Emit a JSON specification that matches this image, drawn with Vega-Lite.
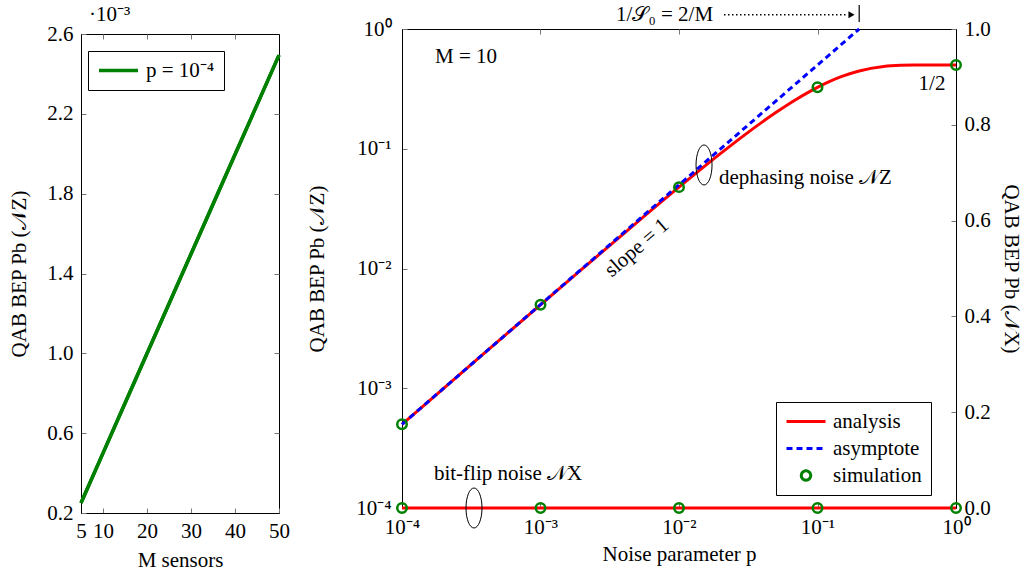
{
  "$schema": "https://vega.github.io/schema/vega-lite/v6.json",
  "padding": {"left": 8, "top": 2, "right": 5, "bottom": 3},
  "background": "white",
  "spacing": 16,
  "resolve": {"scale": {"color": "independent"}, "legend": {"color": "independent"}},
  "config": {
    "font": "Liberation Serif",
    "view": {"stroke": "black", "strokeWidth": 1},
    "axis": {
      "labelFont": "Liberation Serif", "labelFontSize": 21, "labelColor": "black",
      "titleFont": "Liberation Serif", "titleFontSize": 21, "titleFontWeight": "normal", "titleColor": "black",
      "domainColor": "black", "tickColor": "#777", "tickSize": -5, "grid": false,
      "labelPadding": 13, "labelFlush": false, "labelOverlap": false, "labelBound": false
    },
    "legend": {
      "labelFont": "Liberation Serif", "labelFontSize": 21, "labelColor": "black",
      "strokeColor": "black", "fillColor": "white", "padding": 9, "labelOffset": 6,
      "rowPadding": 5, "symbolStrokeWidth": 3.5, "cornerRadius": 0
    },
    "text": {"font": "Liberation Serif", "fontSize": 21, "color": "black"},
    "title": {"font": "Liberation Serif", "fontSize": 21, "fontWeight": "normal", "color": "black"}
  },
  "datasets": {
    "sensors": [
      {"M": 5, "Pb": 0.00025, "series": "p = 10⁻⁴"},
      {"M": 10, "Pb": 0.0004998, "series": "p = 10⁻⁴"},
      {"M": 15, "Pb": 0.0007495, "series": "p = 10⁻⁴"},
      {"M": 20, "Pb": 0.000999, "series": "p = 10⁻⁴"},
      {"M": 25, "Pb": 0.0012485, "series": "p = 10⁻⁴"},
      {"M": 30, "Pb": 0.0014978, "series": "p = 10⁻⁴"},
      {"M": 35, "Pb": 0.001747, "series": "p = 10⁻⁴"},
      {"M": 40, "Pb": 0.001996, "series": "p = 10⁻⁴"},
      {"M": 45, "Pb": 0.002245, "series": "p = 10⁻⁴"},
      {"M": 50, "Pb": 0.002494, "series": "p = 10⁻⁴"}
    ],
    "analysis": [
      {"p": 0.0001, "Pb": 0.0004998, "series": "analysis"},
      {"p": 0.0002, "Pb": 0.000999, "series": "analysis"},
      {"p": 0.0005, "Pb": 0.002494, "series": "analysis"},
      {"p": 0.001, "Pb": 0.004978, "series": "analysis"},
      {"p": 0.002, "Pb": 0.00991, "series": "analysis"},
      {"p": 0.005, "Pb": 0.02444, "series": "analysis"},
      {"p": 0.01, "Pb": 0.04781, "series": "analysis"},
      {"p": 0.02, "Pb": 0.09146, "series": "analysis"},
      {"p": 0.03, "Pb": 0.1313, "series": "analysis"},
      {"p": 0.05, "Pb": 0.2006, "series": "analysis"},
      {"p": 0.07, "Pb": 0.258, "series": "analysis"},
      {"p": 0.1, "Pb": 0.3257, "series": "analysis"},
      {"p": 0.15, "Pb": 0.4016, "series": "analysis"},
      {"p": 0.2, "Pb": 0.4463, "series": "analysis"},
      {"p": 0.3, "Pb": 0.4859, "series": "analysis"},
      {"p": 0.4, "Pb": 0.497, "series": "analysis"},
      {"p": 0.5, "Pb": 0.4995, "series": "analysis"},
      {"p": 0.7, "Pb": 0.5, "series": "analysis"},
      {"p": 1, "Pb": 0.5, "series": "analysis"}
    ],
    "asymptote": [
      {"p": 0.0001, "Pb": 0.0005, "series": "asymptote"},
      {"p": 0.2, "Pb": 1, "series": "asymptote"}
    ],
    "simulationZ": [
      {"p": 0.0001, "Pb": 0.0005, "series": "simulation"},
      {"p": 0.001, "Pb": 0.004978, "series": "simulation"},
      {"p": 0.01, "Pb": 0.04781, "series": "simulation"},
      {"p": 0.1, "Pb": 0.3257, "series": "simulation"},
      {"p": 1, "Pb": 0.5, "series": "simulation"}
    ],
    "notesLeft": [
      {"p": 0.000173, "Pb": 0.583, "label": "M = 10"},
      {"p": 0.01945, "Pb": 0.057, "label": "dephasing noise 𝒩Z"}
    ],
    "notesRight": [
      {"p": 0.01762, "Pb": 1.316, "label": "1/𝒮₀ = 2/M"}
    ],
    "notesCenter": [
      {"p": 0.671, "Pb": 0.347, "label": "1/2"}
    ],
    "slope": [
      {"p": 0.00497, "Pb": 0.01483, "label": "slope = 1"}
    ],
    "arrow": [
      {"p": 0.02113, "p2": 0.166, "Pb": 1.316}
    ],
    "arrowhead": [
      {"p": 0.176, "Pb": 1.316}
    ],
    "bar": [
      {"p": 0.2, "Pb": 1.144, "Pb2": 1.586}
    ],
    "ellipseZ": [
      {"p": 0.01516, "Pb": 0.0732}
    ],
    "bitflip": [
      {"p": 0.0001, "Px": 0},
      {"p": 0.001, "Px": 0},
      {"p": 0.01, "Px": 0},
      {"p": 0.1, "Px": 0},
      {"p": 1, "Px": 0}
    ],
    "simulationX": [
      {"p": 0.0001, "Px": 0},
      {"p": 0.001, "Px": 0},
      {"p": 0.01, "Px": 0},
      {"p": 0.1, "Px": 0},
      {"p": 1, "Px": 0}
    ],
    "notesX": [
      {"p": 0.00017, "Px": 0.071, "label": "bit-flip noise 𝒩X"}
    ],
    "ellipseX": [
      {"p": 0.000331, "Px": 0}
    ]
  },
  "hconcat": [
    {
      "spacing": 0,
      "vconcat": [
        {
          "width": 1, "height": 1,
          "view": {"stroke": null},
          "data": {"values": []},
          "mark": {"type": "text"},
          "encoding": {}
        },
        {
          "width": 198,
          "height": 479,
          "title": {"text": "·10⁻³", "anchor": "start", "frame": "group", "dx": 8, "offset": -2},
          "data": {"name": "sensors"},
          "layer": [
            {
              "mark": {"type": "line", "strokeWidth": 3.5},
              "encoding": {
                "x": {"field": "M", "type": "quantitative",
                  "scale": {"domain": [5, 50], "nice": false, "zero": false},
                  "axis": {"values": [5, 10, 20, 30, 40, 50], "title": "M sensors", "labelPadding": 12, "titlePadding": 8}},
                "y": {"field": "Pb", "type": "quantitative",
                  "scale": {"domain": [0.0002, 0.0026], "nice": false, "zero": false},
                  "axis": {"values": [0.0002, 0.0006, 0.001, 0.0014, 0.0018, 0.0022, 0.0026],
                    "labelExpr": "format(datum.value*1000, '.1f')",
                    "title": "QAB BEP Pb (𝒩Z)", "titlePadding": 17}},
                "color": {"field": "series", "type": "nominal",
                  "scale": {"range": ["#008000"]},
                  "legend": {"title": null, "orient": "none", "legendX": 7, "legendY": 49,
                    "symbolType": "stroke", "symbolSize": 1521, "symbolStrokeWidth": 3.5, "clipHeight": 21}}
              }
            },
            {
              "mark": {"type": "line", "strokeWidth": 3.5, "color": "#008000"},
              "encoding": {
                "x": {"field": "M", "type": "quantitative",
                  "axis": {"orient": "top", "labels": false, "title": null, "domain": false, "values": [10, 20, 30, 40]}},
                "y": {"field": "Pb", "type": "quantitative",
                  "axis": {"orient": "right", "labels": false, "title": null, "domain": false,
                    "values": [0.0006, 0.001, 0.0014, 0.0018, 0.0022]}}
              }
            }
          ],
          "resolve": {"axis": {"x": "independent", "y": "independent"}}
        }
      ]
    },
    {
      "spacing": 0,
      "vconcat": [
        {
          "width": 1, "height": 1,
          "view": {"stroke": null},
          "data": {"values": []},
          "mark": {"type": "text"},
          "encoding": {}
        },
        {
          "width": 554,
          "height": 479,
          "layer": [
            {
              "encoding": {
                "x": {"field": "p", "type": "quantitative",
                  "scale": {"type": "log", "domain": [0.0001, 1], "nice": false},
                  "axis": {"orient": "bottom", "values": [0.0001, 0.001, 0.01, 0.1, 1],
                    "labelExpr": "'10' + replace(replace(replace(replace(replace(replace(''+round(log(datum.value)/LN10),'-','⁻'),'0','⁰'),'1','¹'),'2','²'),'3','³'),'4','⁴')",
                    "title": "Noise parameter p", "labelPadding": 13, "titlePadding": 6}},
                "y": {"field": "Pb", "type": "quantitative",
                  "scale": {"type": "log", "domain": [0.0001, 1], "nice": false},
                  "axis": {"orient": "left", "values": [0.0001, 0.001, 0.01, 0.1, 1],
                    "labelExpr": "'10' + replace(replace(replace(replace(replace(replace(''+round(log(datum.value)/LN10),'-','⁻'),'0','⁰'),'1','¹'),'2','²'),'3','³'),'4','⁴')",
                    "title": "QAB BEP Pb (𝒩Z)", "labelPadding": 16, "titlePadding": 28}}
              },
              "layer": [
                {
                  "data": {"name": "analysis"},
                  "mark": {"type": "line", "strokeWidth": 3, "interpolate": "monotone"},
                  "encoding": {
                    "color": {"field": "series", "type": "nominal",
                      "scale": {"domain": ["analysis", "asymptote", "simulation"], "range": ["#ff0000", "#0000ff", "#008000"]},
                      "legend": {"title": null, "orient": "none", "legendX": 374, "legendY": 400,
                        "symbolType": "stroke", "symbolSize": 1521, "symbolStrokeWidth": 3, "clipHeight": 21,
                        "encode": {"symbols": {"update": {
                          "shape": {"signal": "datum.value === 'simulation' ? 'M-0.24,0A0.24,0.24,0,1,0,0.24,0A0.24,0.24,0,1,0,-0.24,0Z' : 'stroke'"},
                          "size": {"value": 1521},
                          "strokeDash": {"signal": "datum.value === 'asymptote' ? [6, 4] : [1, 0]"},
                          "strokeWidth": {"value": 3},
                          "fill": {"value": "transparent"}
                        }}}}}
                  }
                },
                {
                  "data": {"name": "asymptote"},
                  "mark": {"type": "line", "strokeWidth": 3, "strokeDash": [6, 4]},
                  "encoding": {"color": {"field": "series", "type": "nominal"}}
                },
                {
                  "data": {"name": "simulationZ"},
                  "mark": {"type": "point", "shape": "circle", "filled": false, "size": 90, "strokeWidth": 2.5, "opacity": 1},
                  "encoding": {"color": {"field": "series", "type": "nominal"}}
                },
                {
                  "data": {"name": "notesLeft"},
                  "mark": {"type": "text", "align": "left", "baseline": "middle"},
                  "encoding": {"text": {"field": "label"}}
                },
                {
                  "data": {"name": "notesRight"},
                  "mark": {"type": "text", "align": "right", "baseline": "middle"},
                  "encoding": {"text": {"field": "label"}}
                },
                {
                  "data": {"name": "notesCenter"},
                  "mark": {"type": "text", "align": "center", "baseline": "middle"},
                  "encoding": {"text": {"field": "label"}}
                },
                {
                  "data": {"name": "slope"},
                  "mark": {"type": "text", "align": "center", "baseline": "middle", "angle": -41},
                  "encoding": {"text": {"field": "label"}}
                },
                {
                  "data": {"name": "arrow"},
                  "mark": {"type": "rule", "strokeDash": [1.5, 2.5], "strokeWidth": 1.5, "color": "black"},
                  "encoding": {"x2": {"field": "p2"}}
                },
                {
                  "data": {"name": "arrowhead"},
                  "mark": {"type": "point", "shape": "triangle-right", "filled": true, "color": "black", "size": 50, "opacity": 1}
                },
                {
                  "data": {"name": "bar"},
                  "mark": {"type": "rule", "strokeWidth": 1.2, "color": "black"},
                  "encoding": {"y2": {"field": "Pb2"}}
                },
                {
                  "data": {"name": "ellipseZ"},
                  "mark": {"type": "point", "shape": "M0,-1A0.4,1,0,1,1,0,1A0.4,1,0,1,1,0,-1Z", "filled": false, "color": "black", "strokeWidth": 1, "size": 1600, "opacity": 1}
                }
              ]
            },
            {
              "encoding": {
                "x": {"field": "p", "type": "quantitative",
                  "scale": {"type": "log", "domain": [0.0001, 1], "nice": false},
                  "axis": {"orient": "top", "labels": false, "title": null, "domain": false, "values": [0.001, 0.01, 0.1]}},
                "y": {"field": "Px", "type": "quantitative",
                  "scale": {"domain": [0, 1], "nice": false, "zero": false},
                  "axis": {"orient": "right", "values": [0, 0.2, 0.4, 0.6, 0.8, 1], "format": ".1f",
                    "title": "QAB BEP Pb (𝒩X)", "labelPadding": 13, "titlePadding": 10}}
              },
              "layer": [
                {
                  "data": {"name": "bitflip"},
                  "mark": {"type": "line", "strokeWidth": 3, "color": "#ff0000"}
                },
                {
                  "data": {"name": "simulationX"},
                  "mark": {"type": "point", "shape": "circle", "filled": false, "size": 90, "strokeWidth": 2.5, "color": "#008000", "opacity": 1}
                },
                {
                  "data": {"name": "notesX"},
                  "mark": {"type": "text", "align": "left", "baseline": "middle"},
                  "encoding": {"text": {"field": "label"}}
                },
                {
                  "data": {"name": "ellipseX"},
                  "mark": {"type": "point", "shape": "M0,-1A0.4,1,0,1,1,0,1A0.4,1,0,1,1,0,-1Z", "filled": false, "color": "black", "strokeWidth": 1, "size": 1600, "opacity": 1}
                }
              ]
            }
          ],
          "resolve": {"scale": {"y": "independent"}, "axis": {"x": "independent", "y": "independent"}}
        }
      ]
    }
  ]
}
